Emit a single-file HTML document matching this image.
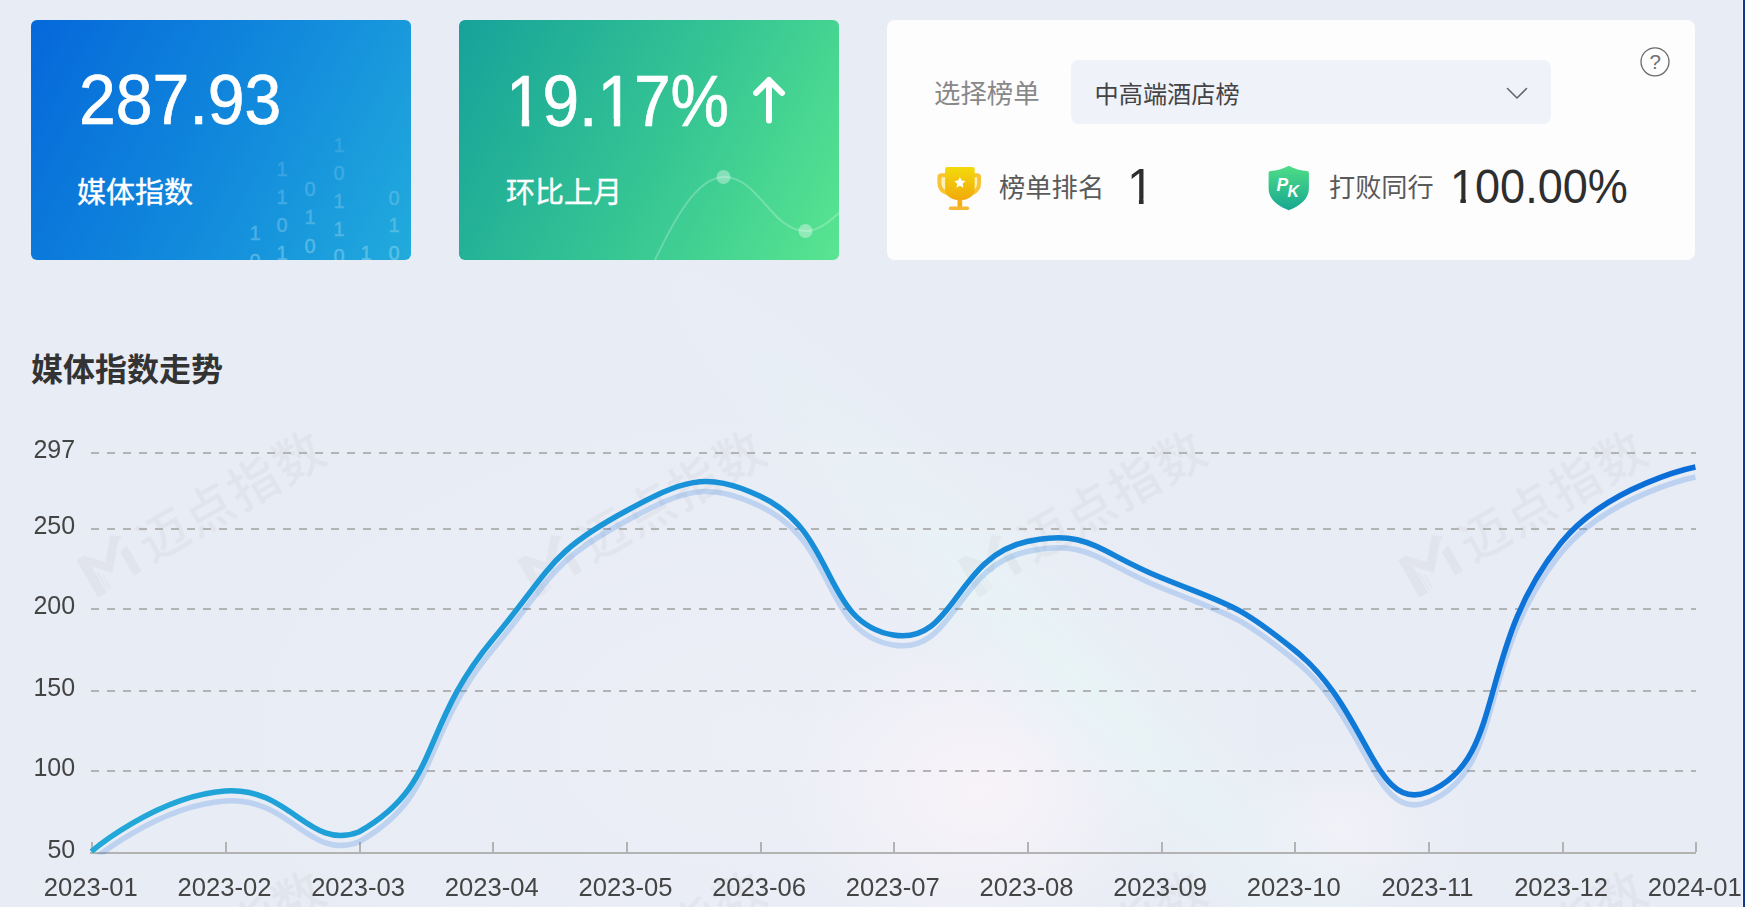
<!DOCTYPE html>
<html lang="zh-CN">
<head>
<meta charset="utf-8">
<title>媒体指数走势</title>
<style>
html,body{margin:0;padding:0}
body{width:1745px;height:907px;overflow:hidden;position:relative;background:#e8ecf5;font-family:"Liberation Sans","Noto Sans CJK SC",sans-serif;color:#333}
.abs{position:absolute}
.bg{left:0;top:0;width:1745px;height:907px;overflow:hidden;
 background:
  radial-gradient(ellipse 200px 170px at 980px 790px, rgba(249,244,249,.9), rgba(249,244,249,0) 100%),
  radial-gradient(ellipse 130px 90px at 1340px 830px, rgba(246,243,249,.7), rgba(246,243,249,0) 100%),
  radial-gradient(ellipse 520px 330px at 760px 740px, rgba(240,241,248,.6), rgba(240,241,248,0) 100%);
}
.band{left:995px;top:60px;width:170px;height:1240px;transform:rotate(-45deg);
 background:radial-gradient(ellipse 50% 50% at 50% 50%, rgba(232,244,246,.95), rgba(232,244,246,0) 100%)}
.edge{right:0;top:0;width:2px;height:907px;background:#133a86}
.edge2{right:2px;top:0;width:1px;height:907px;background:#eef5ff}
.card{position:absolute;top:20px;height:240px;border-radius:6px;overflow:hidden}
#c1{left:31px;width:380px;background:linear-gradient(118deg,#0568da 0%,#128bdc 55%,#22abdc 100%)}
#c2{left:459px;width:380px;background:linear-gradient(118deg,#16a29a 0%,#36c693 55%,#59e590 100%)}
#c3{left:887px;width:808px;background:#fdfdfe;border-radius:8px}
.num{position:absolute;white-space:nowrap;transform-origin:0 0;line-height:1}
.big{-webkit-text-stroke:.7px #fff}
.lab{-webkit-text-stroke:.35px #fff}
.cjk{position:absolute;white-space:nowrap;line-height:1}
.bin{position:absolute;-webkit-text-stroke:.4px #d8f3ff;font-size:20px;line-height:20px;height:20px;color:#d8f3ff;width:20px;text-align:center}
</style>
</head>
<body>
<div class="abs bg"><div class="abs band"></div></div>

<!-- card 1 -->
<div class="card" id="c1">
  <div class="num big" id="n1" style="left:48px;top:44.300px;font-size:71px;color:#fff;transform:scaleX(.932)">287.93</div>
  <div class="cjk lab" id="l1" style="left:46px;top:158.500px;font-size:29px;color:#fff">媒体指数</div>
  <div class="bin" style="left:214px;top:203px;opacity:0.28">1</div><div class="bin" style="left:214px;top:231px;opacity:0.32">0</div><div class="bin" style="left:241px;top:139px;opacity:0.18">1</div><div class="bin" style="left:241px;top:167px;opacity:0.22">1</div><div class="bin" style="left:241px;top:195px;opacity:0.26">0</div><div class="bin" style="left:241px;top:222.5px;opacity:0.31">1</div><div class="bin" style="left:269px;top:159px;opacity:0.21">0</div><div class="bin" style="left:269px;top:187px;opacity:0.25">1</div><div class="bin" style="left:269px;top:215.5px;opacity:0.30">0</div><div class="bin" style="left:298px;top:115px;opacity:0.14">1</div><div class="bin" style="left:298px;top:143px;opacity:0.18">0</div><div class="bin" style="left:298px;top:171px;opacity:0.23">1</div><div class="bin" style="left:298px;top:199px;opacity:0.28">1</div><div class="bin" style="left:298px;top:226px;opacity:0.31">0</div><div class="bin" style="left:325px;top:222.5px;opacity:0.31">1</div><div class="bin" style="left:353px;top:167.5px;opacity:0.22">0</div><div class="bin" style="left:353px;top:195px;opacity:0.26">1</div><div class="bin" style="left:353px;top:222.5px;opacity:0.31">0</div>
</div>

<!-- card 2 -->
<div class="card" id="c2">
  <div class="num big" id="n2" style="left:47px;top:44.500px;font-size:72px;color:#fff;transform:scaleX(.913);clip-path:polygon(0 0,260px 0,260px 72px,138.800px 72px,138.800px 54.6px,125.100px 54.6px,125.100px 72px,118.100px 72px,118.100px 54.6px,102.800px 54.6px,102.800px 72px,38.800px 72px,38.800px 54.6px,25.400px 54.6px,25.400px 72px,17.300px 72px,17.300px 54.6px,3.200px 54.6px,3.200px 72px,0 72px)">19.17%</div>
  <svg class="abs" style="left:288px;top:56px" width="44" height="52" viewBox="0 0 44 52"><path d="M22 44.600V4M9 17L22 4l13 13" fill="none" stroke="#fff" stroke-width="6" stroke-linecap="round" stroke-linejoin="round"/></svg>
  <div class="cjk lab" id="l2" style="left:47px;top:158.500px;font-size:29px;color:#fff">环比上月</div>
  <svg class="abs" style="left:0;top:0" width="380" height="240" viewBox="0 0 380 240">
    <path d="M196 240C215 200 238 157 265 157C300 157 312 211 347 211C360 211 372 200 382 191" fill="none" stroke="#fff" stroke-opacity=".24" stroke-width="2"/>
    <circle cx="264.500" cy="157" r="7" fill="#fff" fill-opacity=".36"/>
    <circle cx="346.500" cy="211" r="7" fill="#fff" fill-opacity=".36"/>
  </svg>
</div>

<!-- card 3 -->
<div class="card" id="c3">
  <div class="cjk" style="left:47px;top:61px;font-size:26.400px;color:#888">选择榜单</div>
  <div class="abs" style="left:184px;top:40px;width:480px;height:64px;border-radius:8px;background:#eff2f9"></div>
  <div class="cjk" style="left:207.500px;top:63px;font-size:24.200px;color:#444">中高端酒店榜</div>
  <svg class="abs" style="left:616px;top:64px" width="28" height="20" viewBox="0 0 28 20"><path d="M4.500 4.500L14 14l9.500-9.500" fill="none" stroke="#666" stroke-width="1.600" stroke-linecap="round" stroke-linejoin="round"/></svg>
  <svg class="abs" style="left:752px;top:26px" width="32" height="32" viewBox="0 0 32 32"><circle cx="16" cy="15.800" r="14" fill="none" stroke="#6a6a6a" stroke-width="1.300"/><text x="16.200" y="23.300" text-anchor="middle" font-family="Liberation Sans, sans-serif" font-size="20.500" fill="#707070">?</text></svg>
  <svg class="abs" style="left:49px;top:147px" width="47" height="44" viewBox="0 0 47 44">
    <defs><linearGradient id="tg" x1="0" y1="0" x2="0" y2="1"><stop offset="0" stop-color="#f3d90a"/><stop offset=".55" stop-color="#f2bf0b"/><stop offset="1" stop-color="#f2a90a"/></linearGradient></defs>
    <path d="M5 9H10V24H8Q5 20 5 16ZM38 9H42V16Q42 20 39.500 24H38Z" fill="#fdf0ba"/>
    <path d="M10 8.300H5.600Q3.400 8.300 3.400 10.500V16Q3.400 23.500 11.500 26.400M38 8.300H40.900Q43.100 8.300 43.100 10.500V16Q43.100 23.500 36 26.400" fill="none" stroke="#f7c433" stroke-width="4"/>
    <path d="M9.100 2.300Q9.100 .1 11.300 .1H36.500Q38.700 .1 38.700 2.300V21.500C38.700 29.500 32 33.200 23.900 33.200C15.800 33.200 9.100 29.500 9.100 21.500Z" fill="url(#tg)"/>
    <rect x="21.500" y="32" width="4.700" height="8.500" fill="#f3af14"/>
    <rect x="12.800" y="39.500" width="20.400" height="3.600" rx="1.800" fill="#f6b832"/>
    <path d="M23.900 10l1.700 3.600 3.900.5-2.900 2.700.8 3.900-3.500-1.950-3.500 1.950.8-3.900-2.900-2.700 3.900-.5z" fill="#fff"/>
  </svg>
  <div class="cjk" style="left:112px;top:155px;font-size:26.300px;color:#5a5a5a">榜单排名</div>
  <div class="num" id="rk" style="left:240.400px;top:142px;font-size:50px;color:#2e2e2e;transform:scaleX(.97);clip-path:polygon(0 0,40px 0,40px 37.400px,17.100px 37.400px,17.100px 50px,12.300px 50px,12.300px 37.400px,0 37.400px)">1</div>
  <svg class="abs" style="left:381px;top:145px" width="42" height="46" viewBox="0 0 42 46">
    <defs><linearGradient id="sg" x1="0" y1="0" x2="0" y2="1"><stop offset="0" stop-color="#4fdd86"/><stop offset="1" stop-color="#17a791"/></linearGradient></defs>
    <path d="M20.700 .7C15.500 3.800 8 5.800 2.600 6Q.6 6.100 .6 8.100V23.500C.6 33.500 9 41 20.700 45.200C32.400 41 40.900 33.500 40.900 23.500V8.100Q40.900 6.100 38.900 6C33.400 5.800 25.900 3.800 20.700 .7Z" fill="url(#sg)"/>
    <text x="8.600" y="25.800" font-family="Liberation Sans, sans-serif" font-size="17.500" font-style="italic" font-weight="bold" fill="#fff">P</text>
    <text x="19.600" y="31.600" font-family="Liberation Sans, sans-serif" font-size="16" font-style="italic" font-weight="bold" fill="#fff">K</text>
  </svg>
  <div class="cjk" style="left:442px;top:155px;font-size:26.200px;color:#5a5a5a">打败同行</div>
  <div class="num" id="bv" style="left:563px;top:141.500px;font-size:49px;color:#2e2e2e;transform:scaleX(.919);clip-path:polygon(0 0,200px 0,200px 49px,27.200px 49px,27.200px 36.800px,17.300px 36.800px,17.300px 49px,11.300px 49px,11.300px 36.800px,.5px 36.800px,.5px 49px,0 49px)">100.00%</div>
</div>

<!-- title -->
<div class="cjk" id="title" style="left:31px;top:353.600px;font-size:32px;font-weight:bold;color:#333">媒体指数走势</div>

<!-- chart -->
<svg class="abs" style="left:0;top:400px" width="1745" height="507" viewBox="0 400 1745 507" font-family="Liberation Sans, Noto Sans CJK SC, sans-serif">
  <defs>
    <linearGradient id="lg" gradientUnits="userSpaceOnUse" x1="92" y1="0" x2="1695" y2="0">
      <stop offset="0" stop-color="#22a9d8"/><stop offset="1" stop-color="#0a6cd8"/>
    </linearGradient>
    <clipPath id="cp"><rect x="80" y="400" width="1630" height="454.500"/></clipPath>
  </defs>
  <g opacity=".045" fill="#555" font-size="49.500" font-weight="500"><g transform="translate(102.3 595.0) rotate(-30)"><path d="M-5 0V-43H4L19-27 37-48 46-41 40-38 20-14 5-30V0Z"/><path d="M7 -1V-22M10.500 -1V-18" stroke="#555" stroke-width="1.500" fill="none"/><path d="M37 -1V-28L46 -31V-1Z"/><text x="58" y="-3.500" letter-spacing="2.500">迈点指数</text></g><g transform="translate(542.8 595.0) rotate(-30)"><path d="M-5 0V-43H4L19-27 37-48 46-41 40-38 20-14 5-30V0Z"/><path d="M7 -1V-22M10.500 -1V-18" stroke="#555" stroke-width="1.500" fill="none"/><path d="M37 -1V-28L46 -31V-1Z"/><text x="58" y="-3.500" letter-spacing="2.500">迈点指数</text></g><g transform="translate(983.3 595.0) rotate(-30)"><path d="M-5 0V-43H4L19-27 37-48 46-41 40-38 20-14 5-30V0Z"/><path d="M7 -1V-22M10.500 -1V-18" stroke="#555" stroke-width="1.500" fill="none"/><path d="M37 -1V-28L46 -31V-1Z"/><text x="58" y="-3.500" letter-spacing="2.500">迈点指数</text></g><g transform="translate(1423.8 595.0) rotate(-30)"><path d="M-5 0V-43H4L19-27 37-48 46-41 40-38 20-14 5-30V0Z"/><path d="M7 -1V-22M10.500 -1V-18" stroke="#555" stroke-width="1.500" fill="none"/><path d="M37 -1V-28L46 -31V-1Z"/><text x="58" y="-3.500" letter-spacing="2.500">迈点指数</text></g><g transform="translate(102.3 1035.0) rotate(-30)"><path d="M-5 0V-43H4L19-27 37-48 46-41 40-38 20-14 5-30V0Z"/><path d="M7 -1V-22M10.500 -1V-18" stroke="#555" stroke-width="1.500" fill="none"/><path d="M37 -1V-28L46 -31V-1Z"/><text x="58" y="-3.500" letter-spacing="2.500">迈点指数</text></g><g transform="translate(542.8 1035.0) rotate(-30)"><path d="M-5 0V-43H4L19-27 37-48 46-41 40-38 20-14 5-30V0Z"/><path d="M7 -1V-22M10.500 -1V-18" stroke="#555" stroke-width="1.500" fill="none"/><path d="M37 -1V-28L46 -31V-1Z"/><text x="58" y="-3.500" letter-spacing="2.500">迈点指数</text></g><g transform="translate(983.3 1035.0) rotate(-30)"><path d="M-5 0V-43H4L19-27 37-48 46-41 40-38 20-14 5-30V0Z"/><path d="M7 -1V-22M10.500 -1V-18" stroke="#555" stroke-width="1.500" fill="none"/><path d="M37 -1V-28L46 -31V-1Z"/><text x="58" y="-3.500" letter-spacing="2.500">迈点指数</text></g><g transform="translate(1423.8 1035.0) rotate(-30)"><path d="M-5 0V-43H4L19-27 37-48 46-41 40-38 20-14 5-30V0Z"/><path d="M7 -1V-22M10.500 -1V-18" stroke="#555" stroke-width="1.500" fill="none"/><path d="M37 -1V-28L46 -31V-1Z"/><text x="58" y="-3.500" letter-spacing="2.500">迈点指数</text></g></g>
  <g stroke="#b3b3b3" stroke-width="2" stroke-dasharray="8 8" fill="none">
    <path d="M91 453H1696M91 529H1696M91 609H1696M91 691H1696M91 771H1696"/>
  </g>
  <g stroke="#b3b3b3" stroke-width="2" fill="none">
    <path d="M90 853H1696"/>
    <path d="M92 852V842M226 852V842M360 852V842M493 852V842M627 852V842M761 852V842M894 852V842M1028 852V842M1162 852V842M1295 852V842M1429 852V842M1563 852V842M1696 852V842"/>
  </g>
  <g font-size="25" fill="#444" text-anchor="end">
    <text x="75.200" y="457.8">297</text><text x="75.200" y="533.8">250</text><text x="75.200" y="613.8">200</text><text x="75.200" y="695.8">150</text><text x="75.200" y="775.8">100</text><text x="75.200" y="857.8">50</text>
  </g>
  <g font-size="25.600" fill="#444" text-anchor="middle">
    <text x="90.8" y="896">2023-01</text><text x="224.5" y="896">2023-02</text><text x="358.1" y="896">2023-03</text><text x="491.8" y="896">2023-04</text><text x="625.5" y="896">2023-05</text><text x="759.1" y="896">2023-06</text><text x="892.8" y="896">2023-07</text><text x="1026.5" y="896">2023-08</text><text x="1160.1" y="896">2023-09</text><text x="1293.8" y="896">2023-10</text><text x="1427.5" y="896">2023-11</text><text x="1561.1" y="896">2023-12</text><text x="1694.8" y="896">2024-01</text>
  </g>
  <g clip-path="url(#cp)"><path d="M91.40 851.50 C91.40 851.50 156.62 795.99 225.07 791.00 C290.29 786.24 308.73 851.50 358.73 832.00 C442.40 784.74 417.89 729.46 492.40 640.00 C551.56 568.96 548.54 552.76 626.07 511.00 C682.20 480.76 704.81 470.52 759.73 496.00 C838.48 532.52 820.99 622.68 893.40 635.00 C954.65 645.43 954.76 557.05 1027.07 541.50 C1088.43 528.30 1097.04 551.65 1160.73 577.50 C1230.70 605.90 1235.84 603.01 1294.40 650.00 C1369.50 710.26 1373.59 814.01 1428.07 792.00 C1507.26 760.01 1474.97 647.47 1561.73 542.00 C1608.64 484.97 1695.40 467.00 1695.40 467.00" transform="translate(0,10)" fill="none" stroke="#116fdc" stroke-opacity=".2" stroke-width="5.500" stroke-linecap="butt" stroke-linejoin="round"/>
  <path d="M91.40 851.50 C91.40 851.50 156.62 795.99 225.07 791.00 C290.29 786.24 308.73 851.50 358.73 832.00 C442.40 784.74 417.89 729.46 492.40 640.00 C551.56 568.96 548.54 552.76 626.07 511.00 C682.20 480.76 704.81 470.52 759.73 496.00 C838.48 532.52 820.99 622.68 893.40 635.00 C954.65 645.43 954.76 557.05 1027.07 541.50 C1088.43 528.30 1097.04 551.65 1160.73 577.50 C1230.70 605.90 1235.84 603.01 1294.40 650.00 C1369.50 710.26 1373.59 814.01 1428.07 792.00 C1507.26 760.01 1474.97 647.47 1561.73 542.00 C1608.64 484.97 1695.40 467.00 1695.40 467.00" fill="none" stroke="url(#lg)" stroke-width="5.500" stroke-linecap="butt" stroke-linejoin="round"/></g>
</svg>

<div class="abs edge2"></div>
<div class="abs edge"></div>
</body>
</html>
